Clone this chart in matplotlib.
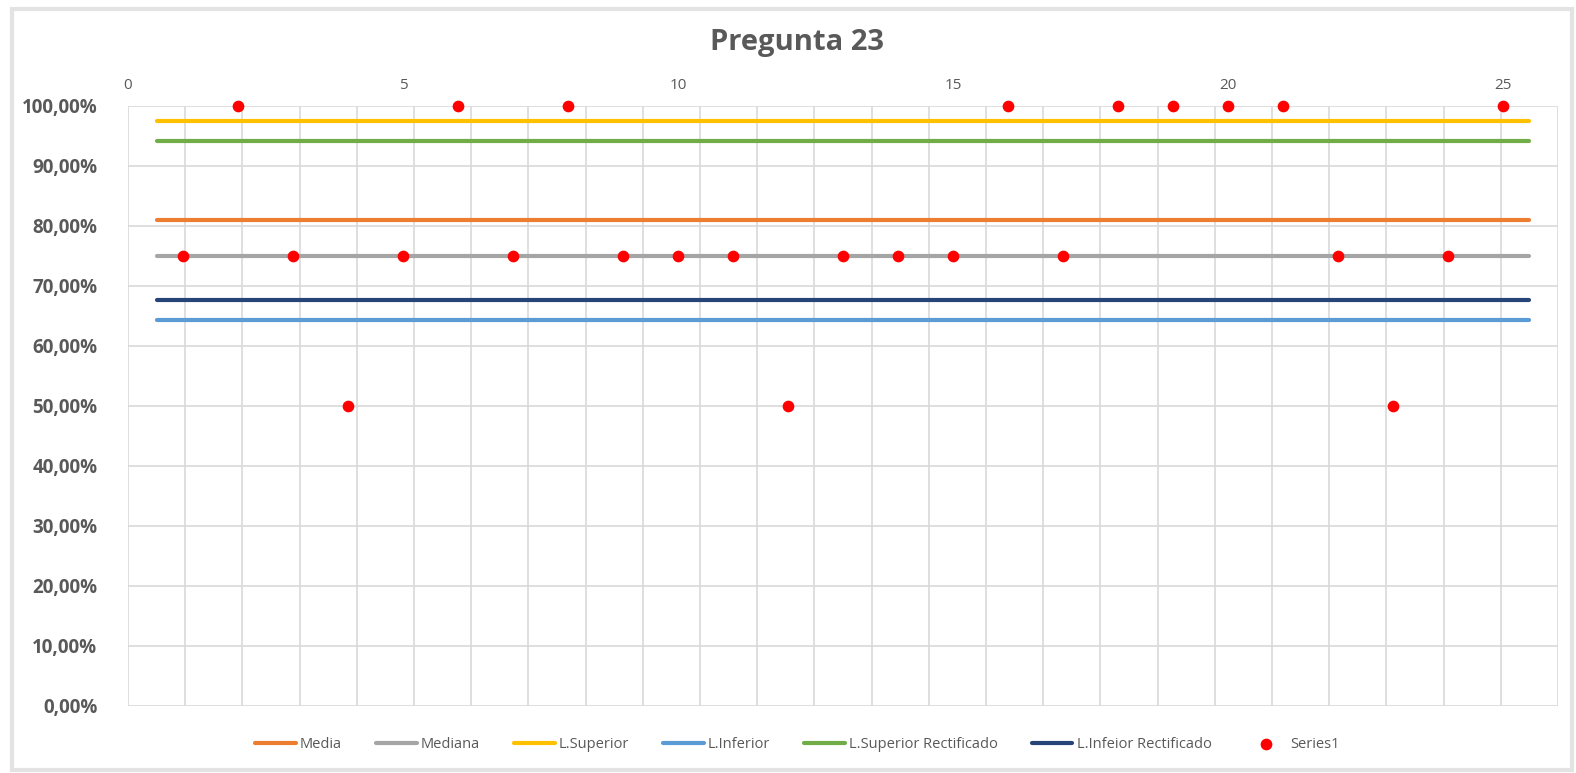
import numpy as np
import matplotlib.pyplot as plt
from matplotlib.patches import Rectangle

# --- Data ---
preguntas = list(range(1, 26))
series1 = [0.75, 1.00, 0.75, 0.50, 0.75, 1.00, 0.75, 1.00, 0.75, 0.75,
           0.75, 0.50, 0.75, 0.75, 0.75, 1.00, 0.75, 1.00, 1.00, 1.00,
           1.00, 0.75, 0.50, 0.75, 1.00]
media = 0.81
mediana = 0.75
l_superior = 0.975
l_inferior = 0.6433
l_sup_rect = 0.9417
l_inf_rect = 0.6767

lineas = [
    ("Media", media, "#ED7D31"),
    ("Mediana", mediana, "#A5A5A5"),
    ("L.Superior", l_superior, "#FFC000"),
    ("L.Inferior", l_inferior, "#5B9BD5"),
    ("L.Superior Rectificado", l_sup_rect, "#70AD47"),
    ("L.Infeior Rectificado", l_inf_rect, "#264478"),
]

gris = "#595959"
plt.rcParams['font.family'] = ['Open Sans', 'DejaVu Sans']

fig = plt.figure(figsize=(15.76, 7.73), dpi=100)
fig.patches.append(Rectangle((0.0075, 0.004), 0.99, 0.985, transform=fig.transFigure,
                             fill=False, edgecolor="#E3E3E3", linewidth=3))

ax = fig.add_axes([0.0812, 0.0867, 0.9074, 0.7762])

# --- Horizontal reference lines (category axis) ---
for nombre, valor, color in lineas:
    ax.plot(preguntas, [valor] * len(preguntas), color=color, linewidth=3,
            solid_capstyle="round", label=nombre, zorder=2)

ax.set_xlim(0.5, 25.5)
ax.set_ylim(0, 1)
ax.set_xticks(np.arange(0.5, 26, 1))
ax.set_yticks(np.arange(0, 1.01, 0.1))
ax.set_yticklabels([f"{v*100:.2f}%".replace(".", ",") for v in np.arange(0, 1.01, 0.1)],
                   fontsize=13.5, fontweight="bold", color=gris)
ax.tick_params(axis="x", length=0, labelbottom=False)
ax.tick_params(axis="y", length=0, pad=22)
ax.grid(True, color="#D9D9D9", linewidth=1.2, zorder=0)
ax.set_axisbelow(True)
for s in ax.spines.values():
    s.set_visible(False)

# --- Scatter on secondary (top) axis ---
ax2 = ax.twiny()
ax2.scatter(preguntas, series1, color="#FF0000", s=55, zorder=5, label="Series1",
            clip_on=False)
ax2.set_xlim(0, 26)
ax2.set_xticks(range(0, 26, 5))
ax2.tick_params(axis="x", length=0, labelsize=11, labelcolor=gris, pad=9)
for s in ax2.spines.values():
    s.set_visible(False)

fig.text(0.506, 0.945, "Pregunta 23", ha="center", va="center",
         fontsize=21, fontweight="bold", color=gris)

h1, l1 = ax.get_legend_handles_labels()
h2, l2 = ax2.get_legend_handles_labels()
fig.legend(h1 + h2, l1 + l2, loc="center", bbox_to_anchor=(0.506, 0.037), ncol=7,
           frameon=False, fontsize=10.5, labelcolor=gris, handlelength=2.8,
           handletextpad=0.3, columnspacing=2.3)

plt.savefig("out.png", dpi=100)
